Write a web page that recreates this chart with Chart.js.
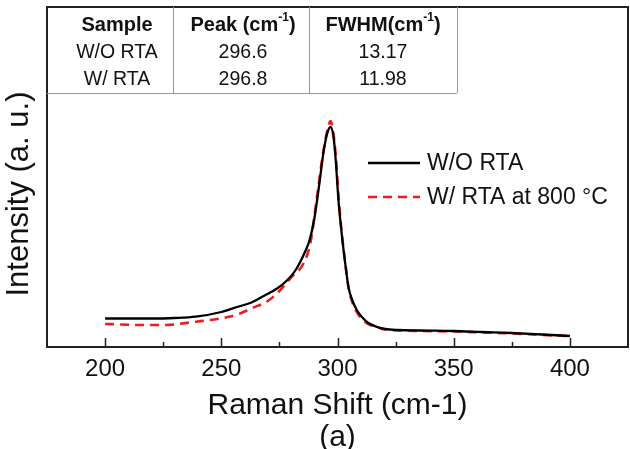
<!DOCTYPE html>
<html>
<head>
<meta charset="utf-8">
<script src="https://cdn.jsdelivr.net/npm/chart.js@4.4.0/dist/chart.umd.min.js"></script>
<style>
  html, body { margin: 0; padding: 0; background: #fff; }
  #wrap { width: 630px; height: 449px; }
</style>
</head>
<body>
<div id="wrap"><canvas id="c" width="630" height="449"></canvas></div>
<script>
// ---- Data ----
const seriesNames = ['W/O RTA', 'W/ RTA at 800 °C'];

const woX = [200, 210, 220, 230, 239, 250, 257.5, 263, 269, 274, 278, 282, 286, 288, 290, 292, 294, 295.5, 297, 298.3, 299.3, 300.4, 301.5, 302.6, 303.7, 304.7, 306.5, 308.3, 310.5, 313.3, 317, 320.5, 326, 335, 350, 362, 375, 388, 400];
const woY = [28.5, 28.5, 28.5, 29, 30.3, 35, 40.5, 44.5, 52, 58.5, 66, 77, 95, 107, 128, 160, 195, 213, 220, 210, 185, 147, 120, 97, 77, 60, 46, 37, 30, 24, 20, 18, 17, 16.5, 16, 15, 14, 12.5, 11];

const wX = [200, 207, 215, 225, 239, 250, 257.5, 263, 270, 274.7, 280.4, 285.4, 288.3, 291, 294, 296, 297, 298.2, 299.3, 300.4, 301.5, 302.6, 303.7, 304.7, 306.5, 308.3, 310.5, 313.3, 317, 320.5, 326, 335, 350, 362, 375, 388, 400];
const wY = [23, 22.5, 22, 22, 25.3, 28.7, 33, 38.7, 46, 55.3, 70.3, 83.7, 103.7, 147, 197, 220, 226, 214, 190, 152, 122, 98, 77, 60, 44, 35, 28, 23, 20, 17.5, 16.5, 16, 15.5, 14.5, 13.5, 12, 11];

const xMajorTicks = [200, 250, 300, 350, 400];
const xMinorTicks = [225, 275, 325, 375];

const xTitle = ['Raman Shift (cm-1)', '(a)'];
const yTitle = 'Intensity (a. u.)';

const tableHeader = ['Sample', 'Peak (cm', 'FWHM(cm'];
const tableSup = ['', '-1', '-1'];
const tableRows = [
  ['W/O RTA', '296.6', '13.17'],
  ['W/ RTA', '296.8', '11.98']
];

const FONT = '"Liberation Sans", Arial, Helvetica, sans-serif';

function toPoints(xs, ys) { return xs.map((x, i) => ({ x: x, y: ys[i] })); }

// ---- plugins ----
const framePlugin = {
  id: 'frame',
  afterDraw(chart) {
    const { ctx, chartArea: ca, scales } = chart;
    const xs = scales.x;
    ctx.save();
    ctx.strokeStyle = '#222';
    ctx.lineWidth = 2;
    ctx.strokeRect(ca.left, ca.top, ca.right - ca.left, ca.bottom - ca.top);
    // inward ticks
    ctx.lineWidth = 1.5;
    ctx.beginPath();
    xMajorTicks.forEach(v => {
      const px = Math.round(xs.getPixelForValue(v)) + 0.5;
      ctx.moveTo(px, ca.bottom);
      ctx.lineTo(px, ca.bottom - 9);
    });
    xMinorTicks.forEach(v => {
      const px = Math.round(xs.getPixelForValue(v)) + 0.5;
      ctx.moveTo(px, ca.bottom);
      ctx.lineTo(px, ca.bottom - 5);
    });
    ctx.stroke();
    // y-axis title
    ctx.translate(19, ca.top + 187);
    ctx.rotate(-Math.PI / 2);
    ctx.fillStyle = '#111';
    ctx.font = '31px ' + FONT;
    ctx.textAlign = 'center';
    ctx.textBaseline = 'middle';
    ctx.fillText(yTitle, 0, 0);
    ctx.restore();
  }
};

function drawSupText(ctx, cx, cy, main, sup, tail, size, bold) {
  const w = bold ? 'bold ' : '';
  ctx.font = w + size + 'px ' + FONT;
  const w1 = ctx.measureText(main).width;
  ctx.font = w + Math.round(size * 0.6) + 'px ' + FONT;
  const w2 = sup ? ctx.measureText(sup).width : 0;
  ctx.font = w + size + 'px ' + FONT;
  const w3 = tail ? ctx.measureText(tail).width : 0;
  let x = cx - (w1 + w2 + w3) / 2;
  ctx.textAlign = 'left';
  ctx.textBaseline = 'middle';
  ctx.fillText(main, x, cy);
  x += w1;
  if (sup) {
    ctx.font = w + Math.round(size * 0.6) + 'px ' + FONT;
    ctx.fillText(sup, x, cy - size * 0.38);
    x += w2;
    ctx.font = w + size + 'px ' + FONT;
  }
  if (tail) ctx.fillText(tail, x, cy);
}

const tablePlugin = {
  id: 'table',
  afterDraw(chart) {
    const { ctx, chartArea: ca } = chart;
    const left = ca.left, top = ca.top;
    const cols = [left, left + 126, left + 262, left + 410];
    const bottom = top + 86;
    ctx.save();
    ctx.strokeStyle = '#999';
    ctx.lineWidth = 1;
    ctx.beginPath();
    [cols[1], cols[2], cols[3]].forEach(x => {
      ctx.moveTo(x + 0.5, top);
      ctx.lineTo(x + 0.5, bottom);
    });
    ctx.moveTo(left, bottom + 0.5);
    ctx.lineTo(cols[3], bottom + 0.5);
    ctx.stroke();
    ctx.fillStyle = '#111';
    const centers = [left + 70, (cols[1] + cols[2]) / 2 + 2, (cols[2] + cols[3]) / 2];
    const rowY = [top + 18, top + 46, top + 73];
    for (let c = 0; c < 3; c++) {
      drawSupText(ctx, centers[c], rowY[0], tableHeader[c], tableSup[c], tableSup[c] ? ')' : '', 20, true);
    }
    tableRows.forEach((row, r) => {
      row.forEach((txt, c) => {
        drawSupText(ctx, centers[c], rowY[r + 1], txt, '', '', 19.5, false);
      });
    });
    ctx.restore();
  }
};

const legendPlugin = {
  id: 'customLegend',
  afterDraw(chart) {
    const { ctx, chartArea: ca } = chart;
    ctx.save();
    const x0 = ca.left + 321, x1 = ca.left + 373, tx = ca.left + 380;
    const ys = [ca.top + 156, ca.top + 190];
    chart.data.datasets.forEach((ds, i) => {
      ctx.strokeStyle = ds.borderColor;
      ctx.lineWidth = ds.borderWidth;
      ctx.setLineDash(ds.borderDash || []);
      ctx.beginPath();
      ctx.moveTo(x0, ys[i]);
      ctx.lineTo(x1, ys[i]);
      ctx.stroke();
      ctx.setLineDash([]);
      ctx.fillStyle = '#111';
      ctx.font = '23px ' + FONT;
      ctx.textAlign = 'left';
      ctx.textBaseline = 'middle';
      ctx.fillText(ds.label, tx, ys[i] + 1);
    });
    ctx.restore();
  }
};

new Chart(document.getElementById('c'), {
  type: 'line',
  data: {
    datasets: [
      {
        label: seriesNames[0],
        data: toPoints(woX, woY),
        borderColor: '#000000',
        borderWidth: 2.3,
        pointRadius: 0,
        fill: false,
        cubicInterpolationMode: 'monotone'
      },
      {
        label: seriesNames[1],
        data: toPoints(wX, wY),
        borderColor: '#ee1c1c',
        borderWidth: 2.6,
        borderDash: [9, 6],
        pointRadius: 0,
        fill: false,
        cubicInterpolationMode: 'monotone'
      }
    ]
  },
  options: {
    responsive: false,
    animation: false,
    devicePixelRatio: 1,
    layout: { padding: { top: 7, right: 2, left: 0, bottom: 0 } },
    plugins: { legend: { display: false }, tooltip: { enabled: false } },
    scales: {
      x: {
        type: 'linear',
        min: 175,
        max: 425,
        afterBuildTicks(scale) { scale.ticks = xMajorTicks.map(v => ({ value: v })); },
        afterFit(scale) { scale.height = 102; },
        grid: { display: false, drawTicks: false },
        border: { display: false },
        ticks: { color: '#111', font: { family: FONT, size: 24 }, padding: 8, maxRotation: 0 },
        title: {
          display: true,
          text: xTitle,
          color: '#111',
          font: { family: FONT, size: 30, lineHeight: 1.07 },
          padding: { top: 0, bottom: -5 }
        }
      },
      y: {
        type: 'linear',
        min: 0,
        max: 340,
        afterFit(scale) { scale.width = 47; },
        grid: { display: false, drawTicks: false },
        border: { display: false },
        ticks: { display: false },
        title: { display: false }
      }
    }
  },
  plugins: [framePlugin, tablePlugin, legendPlugin]
});
</script>
</body>
</html>
